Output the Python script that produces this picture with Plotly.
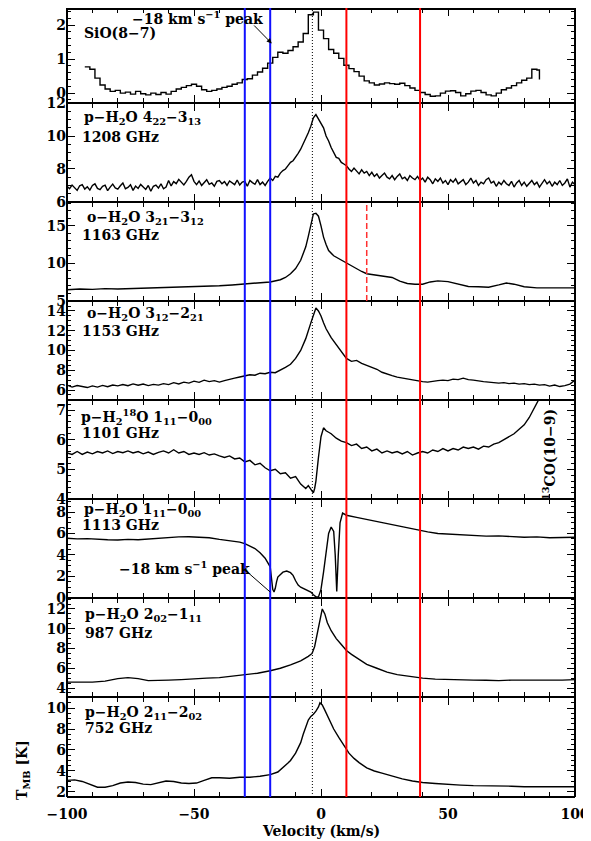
import plotly.graph_objects as go
from plotly.subplots import make_subplots

# ---------------- data ----------------
sio_v = [-93, -91, -89, -87, -85, -83, -81, -79, -77, -75, -73, -71, -69, -67, -65, -63, -61, -59, -57, -55,
         -53, -51, -49, -47, -45, -43, -41, -39, -37, -35, -33, -31, -29, -27, -25, -23, -21, -19, -17, -15,
         -13, -11, -9, -7, -5, -3, -1, 1, 3, 5, 7, 9, 11, 13, 15, 17, 19, 21, 23, 25,
         27, 29, 31, 33, 35, 37, 39, 41, 43, 45, 47, 49, 51, 53, 55, 57, 59, 61, 63, 65,
         67, 69, 71, 73, 75, 77, 79, 81, 83, 85, 86]
sio_t = [0.77, 0.70, 0.44, 0.24, 0.12, 0.05, 0.08, 0.00, 0.03, -0.03, 0.05, -0.02, -0.05, 0.00, -0.04, 0.02, -0.03, 0.05, 0.12, 0.17,
         0.22, 0.26, 0.20, 0.10, 0.05, 0.08, 0.12, 0.17, 0.20, 0.26, 0.30, 0.40, 0.42, 0.53, 0.62, 0.73, 0.88, 1.05, 1.20, 1.17,
         1.25, 1.36, 1.50, 1.75, 2.30, 2.38, 1.85, 1.60, 1.28, 1.17, 1.02, 0.82, 0.72, 0.63, 0.50, 0.36, 0.30, 0.24, 0.27, 0.30,
         0.28, 0.26, 0.29, 0.22, 0.15, 0.08, 0.02, -0.04, -0.09, -0.08, 0.00, 0.06, 0.07, 0.02, -0.08, -0.02, 0.06, 0.08, 0.02, -0.05,
         -0.08, 0.00, 0.10, 0.15, 0.22, 0.30, 0.38, 0.44, 0.70, 0.68, 0.40]

h422_v = list(range(-100, 101))
h422_t = [6.95, 6.80, 7.02, 6.85, 6.70, 6.98, 7.05, 6.78, 6.92, 6.72, 7.00, 7.10, 6.82, 6.75, 6.95, 7.02, 6.68, 6.90, 7.08, 6.85,
          6.78, 6.98, 7.15, 6.80, 6.88, 7.04, 6.70, 6.96, 6.82, 7.06, 6.92, 6.76, 7.00, 6.65, 6.95, 7.02, 6.84, 7.10, 6.80, 6.90,
          7.30, 6.97, 7.23, 7.11, 7.37, 7.20, 7.03, 7.25, 7.50, 7.65, 7.25, 7.05, 7.27, 7.00, 7.20, 7.35, 7.07, 7.15, 6.95, 7.25,
          7.30, 7.10, 7.23, 7.00, 7.27, 7.15, 7.05, 7.33, 7.03, 7.20, 7.25, 6.95, 7.30, 7.17, 7.07, 7.35, 7.05, 7.20, 7.00, 7.25,
          7.45, 7.30, 7.55, 7.50, 7.75,
          7.90, 8.00, 8.20, 8.40, 8.50, 8.70, 8.95, 9.20, 9.50, 9.80, 10.20, 10.60, 11.10, 11.30, 11.00, 10.75, 10.50, 10.00, 9.70, 9.30,
          9.00, 8.70, 8.65, 8.40, 8.30,
          8.20, 8.00, 7.85, 8.05, 7.90, 7.70, 7.95, 7.75, 7.85, 7.60, 7.80, 7.55, 7.70, 7.45, 7.60, 7.75, 7.50, 7.40, 7.60, 7.35,
          7.55, 7.70, 7.40, 7.50, 7.30, 7.60, 7.45, 7.35, 7.55, 7.30, 7.45, 7.20, 7.50, 7.35, 7.10, 7.40, 7.25, 7.45, 7.15, 7.30,
          7.05, 7.35, 7.20, 7.40, 7.10, 7.25, 7.35, 7.05, 7.20, 7.45, 7.15, 7.30, 7.00, 7.20, 7.10, 7.35, 7.45, 7.15, 7.25, 6.95,
          7.20, 7.05, 7.30, 7.10, 7.00, 7.25, 6.90, 7.15, 7.30, 7.00, 7.20, 6.95, 7.10, 7.30, 7.05, 7.20, 6.90, 7.15, 7.35, 7.10,
          7.25, 6.95, 7.20, 7.05, 7.30, 7.00, 7.15, 7.40, 6.90, 7.20, 7.05]

h321_v = [-100, -95, -90, -85, -80, -75, -70, -65, -60, -55, -50, -45, -40, -35, -30, -25, -20, -16, -14, -12,
          -10, -8, -6, -5, -4, -3, -2, -1, 0, 1, 2, 3, 5, 7, 10, 13, 16, 18, 20, 22,
          25, 28, 31, 34, 37, 40, 43, 46, 50, 54, 58, 62, 66, 70, 73, 76, 80, 85, 90, 95, 100]
h321_t = [6.45, 6.55, 6.50, 6.60, 6.55, 6.60, 6.60, 6.65, 6.80, 6.85, 6.85, 6.90, 7.00, 7.10, 7.20, 7.30, 7.50, 7.80, 8.10, 8.60,
          9.30, 10.40, 12.20, 13.60, 15.30, 16.60, 16.70, 16.30, 15.00, 13.50, 12.50, 11.70, 11.00, 10.60, 10.00, 9.40, 8.90, 8.60, 8.50, 8.40,
          8.35, 8.10, 7.60, 7.30, 7.20, 7.20, 7.50, 7.65, 7.55, 7.20, 6.90, 6.85, 6.80, 7.10, 7.35, 7.20, 6.85, 6.70, 6.70, 6.65, 6.70]

h312_v = [-100, -98, -96, -94, -92, -90, -88, -86, -84, -82, -80, -78, -76, -74, -72, -70, -68, -66, -64, -62,
          -60, -58, -56, -54, -52, -50, -48, -46, -44, -42, -40, -38, -36, -34, -32, -30, -28, -26, -24, -22,
          -20, -18, -16, -14, -12, -10, -8, -6, -4, -3, -2, -1, 0, 1, 2, 4, 6, 8, 10, 12,
          14, 16, 18, 20, 22, 24, 26, 28, 30, 32, 34, 36, 38, 40, 42, 44, 46, 48, 50, 52,
          54, 56, 58, 60, 62, 64, 66, 68, 70, 72, 74, 76, 78, 80, 82, 84, 86, 88, 90, 92,
          94, 96, 98, 100]
h312_t = [6.50, 6.30, 6.45, 6.38, 6.25, 6.42, 6.30, 6.47, 6.33, 6.50, 6.42, 6.55, 6.44, 6.62, 6.48, 6.60, 6.45, 6.57, 6.50, 6.65,
          6.55, 6.75, 6.62, 6.80, 6.70, 6.90, 6.78, 7.00, 6.85, 6.95, 6.80, 6.95, 7.10, 7.20, 7.32, 7.45, 7.55, 7.50, 7.70, 7.65,
          7.80, 7.75, 8.00, 8.30, 8.60, 9.20, 10.00, 11.20, 12.80, 13.60, 14.30, 14.00, 13.50, 12.80, 12.20, 11.30, 10.60, 9.80, 9.20, 8.90,
          9.00, 8.70, 8.50, 8.30, 8.10, 7.80, 7.60, 7.45, 7.30, 7.20, 7.10, 7.00, 6.90, 6.85, 6.80, 6.90, 6.95, 7.00, 6.95, 7.10,
          7.05, 7.20, 7.05, 7.00, 6.90, 6.85, 6.80, 6.75, 6.70, 6.75, 6.65, 6.70, 6.60, 6.65, 6.55, 6.60, 6.50, 6.55, 6.40, 6.50,
          6.35, 6.45, 6.60, 7.00]

h18_v = [-100, -98, -96, -94, -92, -90, -88, -86, -84, -82, -80, -78, -76, -74, -72, -70, -68, -66, -64, -62,
         -60, -58, -56, -54, -52, -50, -48, -46, -44, -42, -40, -38, -36, -34, -32, -30, -28, -26, -24, -22,
         -20, -18, -16, -14, -12, -10, -8, -6, -5, -4, -3, -2.5, -2, -1, 0, 1, 2, 3, 4, 6,
         8, 10, 12, 14, 16, 18, 20, 22, 24, 26, 28, 30, 32, 34, 36, 38, 40, 42, 44, 46,
         48, 50, 52, 54, 56, 58, 60, 62, 64, 66, 68, 70, 72, 74, 76, 78, 80, 82, 84, 86,
         88, 90, 95, 100]
h18_t = [5.55, 5.50, 5.60, 5.50, 5.58, 5.52, 5.60, 5.55, 5.62, 5.53, 5.60, 5.56, 5.62, 5.55, 5.60, 5.52, 5.58, 5.50, 5.57, 5.62,
         5.55, 5.66, 5.55, 5.60, 5.50, 5.55, 5.50, 5.56, 5.48, 5.52, 5.45, 5.40, 5.45, 5.35, 5.38, 5.25, 5.30, 5.15, 5.20, 5.05,
         4.95, 5.00, 4.85, 4.88, 4.70, 4.75, 4.50, 4.35, 4.45, 4.30, 4.20, 4.35, 4.60, 5.40, 6.10, 6.40, 6.30, 6.25, 6.20, 6.05,
         5.95, 5.90, 5.80, 5.85, 5.70, 5.75, 5.62, 5.68, 5.55, 5.62, 5.55, 5.60, 5.52, 5.60, 5.48, 5.55, 5.60, 5.55, 5.65, 5.60,
         5.70, 5.62, 5.70, 5.65, 5.75, 5.70, 5.75, 5.68, 5.78, 5.75, 5.85, 5.90, 6.00, 6.10, 6.20, 6.35, 6.50, 6.75, 7.05, 7.40,
         7.80, 8.30, 9.50, 10.50]

h111_v = [-100, -96, -92, -88, -84, -80, -76, -72, -68, -64, -60, -56, -52, -48, -44, -40, -36, -32, -30, -28,
          -26, -24, -22, -20, -19.5, -19, -18.5, -18, -17.5, -17, -15, -13.5, -12, -11, -10, -9, -8, -6, -4, -3,
          -2, -1, 0, 1, 2, 3, 4, 5, 5.6, 6.2, 6.8, 7.5, 8.5, 10, 14, 18, 22, 26, 30, 34,
          38, 42, 46, 50, 55, 60, 65, 70, 75, 80, 85, 90, 95, 100]
h111_t = [5.55, 5.50, 5.52, 5.45, 5.42, 5.40, 5.45, 5.42, 5.50, 5.55, 5.60, 5.68, 5.70, 5.65, 5.60, 5.45, 5.35, 5.20, 5.05, 4.85,
          4.60, 4.20, 3.70, 2.90, 1.80, 0.80, 0.55, 0.90, 1.50, 1.95, 2.40, 2.50, 2.35, 2.10, 1.60, 1.20, 1.00, 0.80, 0.55, 0.30,
          0.10, 0.10, 0.80, 2.40, 4.50, 6.00, 6.60, 6.20, 4.00, 0.60, 4.00, 7.00, 7.90, 7.70, 7.50, 7.30, 7.10, 6.90, 6.70, 6.50,
          6.30, 6.15, 6.00, 5.95, 5.85, 5.80, 5.75, 5.78, 5.70, 5.65, 5.68, 5.60, 5.62, 5.65]

h202_v = [-100, -95, -90, -85, -80, -76, -72, -68, -64, -60, -55, -50, -45, -40, -35, -30, -25, -20, -16, -12,
          -8, -5, -3.5, -2.5, -1.5, -0.5, 0.5, 1.5, 2.5, 4, 6, 8, 10, 12, 15, 18, 22, 26, 30, 35,
          40, 45, 50, 55, 60, 65, 70, 75, 80, 85, 90, 95, 100]
h202_t = [4.60, 4.60, 4.60, 4.70, 4.95, 5.05, 4.95, 4.75, 4.75, 4.80, 4.85, 4.95, 5.00, 5.05, 5.20, 5.35, 5.50, 5.75, 6.00, 6.35,
          6.75, 7.20, 7.50, 8.20, 9.40, 10.80, 12.00, 11.50, 10.60, 9.80, 9.00, 8.40, 7.80, 7.40, 6.90, 6.40, 6.00, 5.60, 5.35, 5.15,
          5.00, 4.90, 4.85, 4.80, 4.80, 4.78, 4.75, 4.80, 4.78, 4.80, 4.80, 4.80, 4.85]

h211_v = [-100, -97, -94, -91, -88, -85, -82, -79, -76, -73, -70, -67, -64, -61, -58, -55, -52, -49, -46, -43,
          -40, -36, -32, -28, -24, -20, -17, -14, -13, -12, -10, -9, -8, -7, -6, -5, -4, -3, -2, -1,
          -0.4, 0.5, 1.5, 3, 5, 7, 9, 11, 13, 15, 18, 21, 24, 28, 32, 36, 40, 45, 50, 55,
          60, 65, 70, 75, 80, 85, 90, 95, 100]
h211_t = [3.10, 3.15, 3.00, 2.70, 2.45, 2.45, 2.60, 2.85, 2.95, 2.90, 2.75, 2.70, 2.85, 3.05, 3.00, 2.85, 2.80, 2.85, 3.10, 3.35,
          3.35, 3.30, 3.40, 3.40, 3.50, 3.65, 3.90, 4.50, 4.75, 5.00, 5.70, 6.20, 6.70, 7.50, 8.20, 8.85, 9.20, 9.40, 9.70, 10.10,
          10.50, 10.30, 9.80, 9.00, 8.00, 7.20, 6.40, 5.70, 5.20, 4.80, 4.30, 4.00, 3.80, 3.50, 3.25, 3.05, 2.90, 2.80, 2.70, 2.65,
          2.60, 2.60, 2.55, 2.55, 2.50, 2.50, 2.45, 2.45, 2.50]

x_ticks = [-100, -50, 0, 50, 100]
x_ticklabels = ["−100", "−50", "0", "50", "100"]
blue_lines = [-30, -20]
red_lines = [10, 39]
dotted_line = -3.4
dashed_red = 18

labels1 = ["SiO(8−7)",
           "p−H<sub>2</sub>O 4<sub>22</sub>−3<sub>13</sub>",
           "o−H<sub>2</sub>O 3<sub>21</sub>−3<sub>12</sub>",
           "o−H<sub>2</sub>O 3<sub>12</sub>−2<sub>21</sub>",
           "p−H<sub>2</sub><sup>18</sup>O 1<sub>11</sub>−0<sub>00</sub>",
           "p−H<sub>2</sub>O 1<sub>11</sub>−0<sub>00</sub>",
           "p−H<sub>2</sub>O 2<sub>02</sub>−1<sub>11</sub>",
           "p−H<sub>2</sub>O 2<sub>11</sub>−2<sub>02</sub>"]
labels2 = [None, "1208 GHz", "1163 GHz", "1153 GHz", "1101 GHz", "1113 GHz", "987 GHz", "752 GHz"]

# ---------------- figure ----------------
FONT = "DejaVu Serif"
W, H = 583, 833           # page body has an 8px margin
ML, MR, MT, MB = 59, 16, 0, 44
PH = H - MT - MB          # plot-area height in px
bounds = [0, 95, 194, 293, 392, 491, 590, 689, PH]   # panel edges, px from plot top

spectra = [(sio_v, sio_t, "hv"), (h422_v, h422_t, "linear"), (h321_v, h321_t, "linear"),
           (h312_v, h312_t, "linear"), (h18_v, h18_t, "linear"), (h111_v, h111_t, "linear"),
           (h202_v, h202_t, "linear"), (h211_v, h211_t, "linear")]
yranges = [[-0.29, 2.5], [5.995, 12.005], [4.95, 18.2], [4.99, 15.01], [3.995, 7.34], [-0.005, 9.21], [3.09, 13.11], [1.52, 11.05]]
ydticks = [1, 2, 5, 2, 1, 2, 2, 2]
yminor = [0.2, 0.5, 1, 0.5, 0.2, 0.5, 0.5, 0.5]

fig = make_subplots(rows=8, cols=1, shared_xaxes=True, vertical_spacing=0)

tfont = dict(family=FONT, size=14, color="black", weight="bold")
for i, (v, t, shp) in enumerate(spectra):
    r = i + 1
    fig.add_trace(go.Scatter(x=v, y=t, mode="lines", showlegend=False, hoverinfo="skip",
                             line=dict(color="black", width=1.4, shape=shp)), row=r, col=1)
    dom = [1 - bounds[r] / PH, 1 - bounds[r - 1] / PH]
    fig.update_yaxes(domain=dom, range=yranges[i], tickmode="linear", tick0=0, dtick=ydticks[i],
                     ticks="inside", ticklen=8, tickwidth=1.3, tickcolor="black",
                     minor=dict(dtick=yminor[i], tick0=0, ticks="inside", ticklen=4, tickwidth=1, tickcolor="black"),
                     showline=False, mirror="allticks", automargin=False,
                     showgrid=False, zeroline=False, tickfont=tfont, row=r, col=1)
    fig.update_xaxes(range=[-100, 100], tickmode="array", tickvals=x_ticks, ticktext=x_ticklabels,
                     ticks="inside", ticklen=8, tickwidth=1.3, tickcolor="black",
                     minor=dict(dtick=10, tick0=0, ticks="inside", ticklen=5, tickwidth=1, tickcolor="black"),
                     showline=False, mirror="allticks", automargin=False,
                     showgrid=False, zeroline=False, showticklabels=(r == 8),
                     ticklabelstandoff=7,
                     tickfont=tfont, row=r, col=1)

shapes = []
# panel frames
for k, b in enumerate(bounds):
    yy = 1 - b / PH
    if k == 0:
        yy = 1 - 1.0 / PH
    shapes.append(dict(type="line", xref="paper", yref="paper", x0=0, x1=1, y0=yy, y1=yy,
                       line=dict(color="black", width=2)))
for xx in (0, 1):
    shapes.append(dict(type="line", xref="paper", yref="paper", x0=xx, x1=xx, y0=0, y1=1,
                       line=dict(color="black", width=2)))
for xv in blue_lines:
    shapes.append(dict(type="line", xref="x", yref="paper", x0=xv, x1=xv, y0=0, y1=1,
                       line=dict(color="#1010ff", width=2)))
for xv in red_lines:
    shapes.append(dict(type="line", xref="x", yref="paper", x0=xv, x1=xv, y0=0, y1=1,
                       line=dict(color="#ff0000", width=2)))
shapes.append(dict(type="line", xref="x", yref="paper", x0=dotted_line, x1=dotted_line, y0=0, y1=1,
                   line=dict(color="black", width=1, dash="1px,2px")))
shapes.append(dict(type="line", xref="x", yref="y3 domain", x0=dashed_red, x1=dashed_red, y0=0, y1=1,
                   line=dict(color="#ff3030", width=1.5, dash="6px,3px")))

afont = dict(family=FONT, size=14, color="black", weight="bold")
ann = []
l1_pos = [(-94.1, 1.76), (-94.1, 11.1), (-93.0, 16.05), (-93.0, 13.7), (-95.3, 6.76), (-94.1, 8.2), (-93.7, 11.4), (-93.7, 9.5)]
l2_pos = [None, (-94.9, 9.94), (-94.9, 13.8), (-94.9, 12.0), (-94.9, 6.22), (-94.9, 6.8), (-93.7, 9.6), (-93.7, 8.1)]
for i in range(8):
    yr = "y" if i == 0 else "y%d" % (i + 1)
    ann.append(dict(x=l1_pos[i][0], y=l1_pos[i][1], xref="x", yref=yr, text=labels1[i], showarrow=False,
                    xanchor="left", yanchor="middle", font=afont))
    if labels2[i]:
        ann.append(dict(x=l2_pos[i][0], y=l2_pos[i][1], xref="x", yref=yr, text=labels2[i], showarrow=False,
                        xanchor="left", yanchor="middle", font=afont))

# -18 km/s peak annotations
ann.append(dict(x=-75.2, y=2.2, xref="x", yref="y", text="−18 km s<sup>−1</sup> peak", showarrow=False,
                xanchor="left", yanchor="middle", font=afont))
ann.append(dict(x=-19.4, y=1.46, xref="x", yref="y", ax=-26.9, ay=2.03, axref="x", ayref="y", text="",
                showarrow=True, arrowhead=2, arrowsize=1, arrowwidth=1, arrowcolor="black"))
ann.append(dict(x=-80.3, y=2.8, xref="x", yref="y6", text="−18 km s<sup>−1</sup> peak", showarrow=False,
                xanchor="left", yanchor="middle", font=afont))
ann.append(dict(x=-20.0, y=0.55, xref="x", yref="y6", ax=-29.9, ay=2.6, axref="x", ayref="y6", text="",
                showarrow=True, arrowhead=0, arrowwidth=1, arrowcolor="black"))
ann.append(dict(x=89.8, y=5.48, xref="x", yref="y5", text="<sup>13</sup>CO(10−9)", showarrow=False,
                textangle=-90, xanchor="center", yanchor="middle", font=afont))
# axis titles
ann.append(dict(x=0, y=(PH - 823) / PH, xref="x", yref="paper", text="Velocity (km/s)", showarrow=False,
                xanchor="center", yanchor="middle", font=afont))
ann.append(dict(x=(15 - ML) / (W - ML - MR), y=(PH - 762) / PH, xref="paper", yref="paper",
                text="T<sub>MB</sub> [K]", showarrow=False,
                textangle=-90, xanchor="center", yanchor="middle", font=afont))

fig.update_layout(width=W, height=H, margin=dict(l=ML, r=MR, t=MT, b=MB, autoexpand=False),
                  plot_bgcolor="white", paper_bgcolor="white",
                  font=dict(family=FONT, size=14, color="black", weight="bold"),
                  shapes=shapes, annotations=ann, showlegend=False)

fig.write_html("out.html")
